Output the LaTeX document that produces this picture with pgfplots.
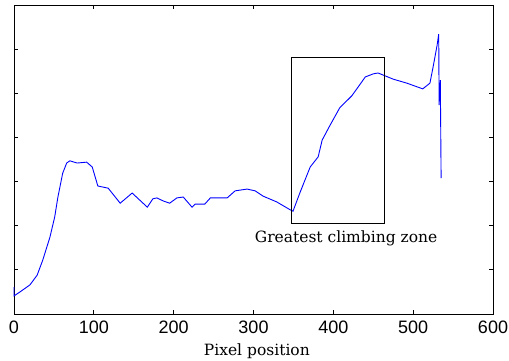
\documentclass[border=0pt]{standalone}
\usepackage{fontspec}
\setmainfont{DejaVu Serif}
\newfontfamily\arial{Liberation Sans}
\usepackage{pgfplots}
\pgfplotsset{compat=1.18}
\begin{document}
\begin{tikzpicture}
\begin{axis}[name=ax, scale only axis, width=479pt, height=309pt,
  xmin=0, xmax=600, ymin=0, ymax=7,
  xtick={0,100,...,600}, ytick={1,2,...,6}, yticklabels={},
  tick align=inside, major tick length=4pt, tick pos=both,
  xticklabel style={font=\arial\fontsize{18}{18}\selectfont, yshift=-3pt},
  /pgf/number format/assume math mode=true,
  axis line style={line width=0.9pt},
  every tick/.style={black, line width=0.9pt},
  xlabel={Pixel position},
  xlabel style={font=\fontsize{15.5}{16}\selectfont, at={(axis description cs:0.507,0)}, anchor=north, yshift=-26pt},
  clip=false]
\addplot[blue, line width=0.9pt] coordinates {
(0,0.61) (0,0.41) (7.5,0.50) (20,0.66) (29,0.88) (36,1.22) (45,1.74) (51,2.20)
(55,2.65) (61,3.19) (66,3.42) (70,3.47) (79,3.42) (91,3.44) (98,3.33) (105,2.90)
(118,2.85) (133,2.51) (148,2.74) (167,2.42) (174,2.61) (179,2.63) (187,2.56)
(195,2.51) (204,2.63) (212,2.65) (223,2.42) (227,2.49) (239,2.49) (246,2.63)
(267,2.63) (277,2.79) (292,2.83) (302,2.79) (312,2.67) (329,2.54) (346,2.36)
(349.5,2.33) (358,2.74) (371,3.33) (381,3.56) (386,3.94) (396,4.28) (408,4.67)
(423,4.94) (431,5.14) (440,5.37) (450,5.44) (456,5.46) (475,5.32) (492,5.23)
(512,5.10) (521,5.23) (525,5.60) (530,6.09) (532,6.34) (532.5,4.73) (534,5.30) (535,3.08)
};
\draw[black, line width=0.9pt] (axis cs:347,2.06) rectangle (axis cs:463.5,5.82);
\node[font=\fontsize{15.5}{16}\selectfont] at (axis cs:416,1.72) {Greatest climbing zone};
\end{axis}
\pgfresetboundingbox
\path ([xshift=-14pt,yshift=-46pt]ax.south west) rectangle ([xshift=16pt,yshift=5pt]ax.north east);
\end{tikzpicture}
\end{document}
